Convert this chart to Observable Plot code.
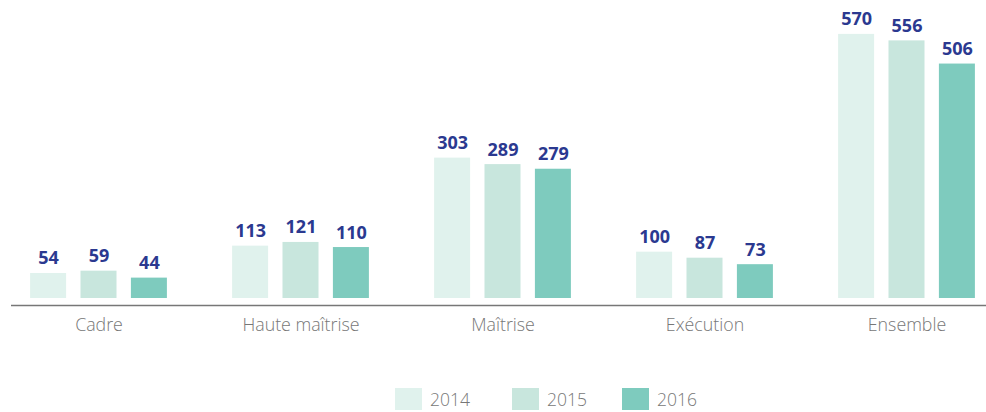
<!DOCTYPE html>
<html>
<head>
<meta charset="utf-8">
<script src="https://cdn.jsdelivr.net/npm/d3@7"></script>
<script src="https://cdn.jsdelivr.net/npm/@observablehq/plot@0.6"></script>
<style>
  body { margin: 0; background: #fff; }
  #chart svg { display: block; }
  #legend { display: flex; margin-top: 28px; margin-left: 395px; font-family: "Open Sans", sans-serif; font-weight: 300; font-size: 17.5px; line-height: 22px; color: #777; }
  #legend .item { display: flex; align-items: center; }
  #legend .sw { width: 27px; height: 22px; margin-right: 8px; }
</style>
</head>
<body>
<div id="chart"></div>
<div id="legend"></div>
<script>
const categories = ["Cadre", "Haute maîtrise", "Maîtrise", "Exécution", "Ensemble"];
const years = ["2014", "2015", "2016"];
const values2014 = [54, 113, 303, 100, 570];
const values2015 = [59, 121, 289, 87, 556];
const values2016 = [44, 110, 279, 73, 506];
const colors = ["#e0f2ed", "#c8e6dd", "#7ecbbe"];

const series = [values2014, values2015, values2016];
const data = [];
years.forEach((yr, j) => categories.forEach((c, i) => data.push({category: c, year: yr, value: series[j][i], j})));

const offsets = [-50.4, 0, 50.4];
const marks = [];
years.forEach((yr, j) => {
  const d = data.filter(r => r.year === yr);
  marks.push(Plot.barY(d, {x: "category", y: "value", fill: colors[j], dx: offsets[j], insetLeft: 61.5, insetRight: 61.5}));
  marks.push(Plot.text(d, {x: "category", y: "value", text: d => String(d.value), dx: offsets[j], dy: -9, lineAnchor: "bottom",
    fill: "#2b3990", fontWeight: 700, fontSize: 18, fontFamily: "Open Sans"}));
});

const plot = Plot.plot({
  width: 986,
  height: 360,
  marginLeft: 18,
  marginRight: 0,
  marginTop: 20,
  marginBottom: 62,
  style: {fontFamily: "Open Sans", background: "#fff"},
  x: {domain: categories, paddingInner: 0.214, paddingOuter: 0, label: null},
  y: {domain: [0, 600], axis: null},
  marks: [
    ...marks,
    Plot.ruleY([0], {stroke: "#777", strokeWidth: 1.3, dy: 7, insetLeft: -7}),
    Plot.axisX({tickSize: 0, tickPadding: 20, fontSize: 17.8, fontWeight: 300, fill: "#777", label: null})
  ]
});
document.getElementById("chart").appendChild(plot);

const itemWidths = [117, 110, 100];
const legend = document.getElementById("legend");
years.forEach((yr, j) => {
  const it = document.createElement("div");
  it.className = "item";
  it.style.width = itemWidths[j] + "px";
  const sw = document.createElement("div");
  sw.className = "sw";
  sw.style.background = colors[j];
  const lb = document.createElement("span");
  lb.textContent = yr;
  it.appendChild(sw); it.appendChild(lb);
  legend.appendChild(it);
});
</script>
</body>
</html>
